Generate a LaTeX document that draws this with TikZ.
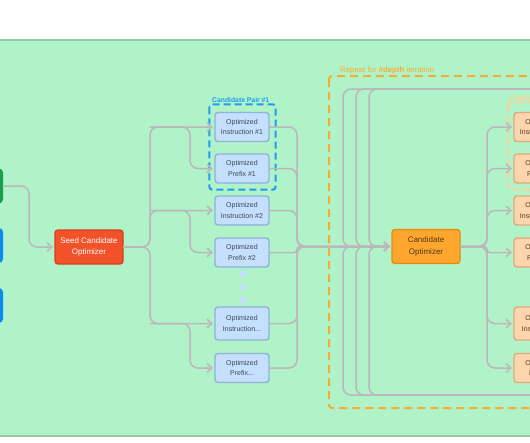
\documentclass[tikz,border=0pt]{standalone}
\usepackage{fontspec}
\setmainfont{Liberation Sans}
\usepackage{xcolor}
\usetikzlibrary{calc,arrows.meta}
\definecolor{panel}{HTML}{B1F3C8}
\definecolor{panelline}{HTML}{98C8A4}
\definecolor{wire}{HTML}{BDB6BC}
\definecolor{seedred}{HTML}{F2522A}
\definecolor{seedline}{HTML}{D4421E}
\definecolor{candorange}{HTML}{FFA62E}
\definecolor{candline}{HTML}{E38D14}
\definecolor{bluefill}{HTML}{C4E0FE}
\definecolor{blueline}{HTML}{8FB3D8}
\definecolor{peachfill}{HTML}{FFD5AE}
\definecolor{peachline}{HTML}{E3A77A}
\definecolor{pairblue}{HTML}{1F9BF0}
\definecolor{pairpeach}{HTML}{FFCF98}
\definecolor{repeatorange}{HTML}{F8AC35}
\definecolor{srcgreen}{HTML}{17A04C}
\definecolor{srcblue}{HTML}{0B8AF0}
\definecolor{ink}{HTML}{3C4656}
\definecolor{brownink}{HTML}{4F3A1E}
\tikzset{
  wire/.style={draw=wire, line width=1.5pt, rounded corners=8pt, line cap=round},
  tip/.style={-{Straight Barb[length=4.5pt,width=8.5pt]}, shorten >=1.5pt},
  optbox/.style={rectangle, rounded corners=3pt, line width=1.4pt, minimum width=54pt,
    minimum height=29pt, align=center, inner sep=1pt, font=\fontsize{7}{10.5}\selectfont},
  bluebox/.style={optbox, fill=bluefill, draw=blueline, text=ink},
  peachbox/.style={optbox, fill=peachfill, draw=peachline, text=brownink},
  mainbox/.style={rectangle, rounded corners=3pt, line width=1.4pt, minimum width=68pt,
    minimum height=34pt, align=center, font=\fontsize{8}{11.3}\selectfont},
  srcbox/.style={rectangle, rounded corners=4pt, minimum width=40pt, minimum height=35pt},
  pairbox/.style={line width=2pt, dash pattern=on 7pt off 4pt, rounded corners=3pt},
  pairlab/.style={anchor=base west, inner sep=0pt, font=\bfseries\fontsize{6.8}{8}\selectfont},
  dot/.style={circle, fill=bluefill, inner sep=0pt, minimum size=7pt},
}

\begin{document}
\begin{tikzpicture}[x=1pt, y=-1pt]
  \clip (0,0) rectangle (530,442);
  \fill[white] (0,0) rectangle (530,442);
  \draw[fill=panel, draw=panelline, line width=1.5pt] (-10,40) rectangle (540,436);

  % repeat frame
  \draw[pairbox, draw=repeatorange, dash pattern=on 8pt off 5pt] (329,76) rectangle (600,408);
  \node[anchor=base west, inner sep=0pt, text=repeatorange, font=\fontsize{7.8}{9}\selectfont]
    (replab) at (340,72) {Repeat for \textbf{\#depth} iteration};

  % inputs, cut at the left edge
  \node[srcbox, fill=srcgreen] (src) at (-17,186) {};
  \node[srcbox, fill=srcblue] (doc1) at (-17,245.5) {};
  \node[srcbox, fill=srcblue] (doc2) at (-17,305.5) {};

  \node[mainbox, fill=seedred, draw=seedline, text=white] (seed) at (89,247) {Seed Candidate\\Optimizer};

  % first candidates
  \node[bluebox] (ins1) at (242,127) {Optimized\\Instruction \#1};
  \node[bluebox] (pre1) at (242,168.5) {Optimized\\Prefix \#1};
  \node[bluebox] (ins2) at (242,210.5) {Optimized\\Instruction \#2};
  \node[bluebox] (pre2) at (242,252.5) {Optimized\\Prefix \#2};
  \node[bluebox, minimum height=33pt] (insn) at (242,323.5) {Optimized\\Instruction...};
  \node[bluebox] (pren) at (242,368) {Optimized\\Prefix...};
  \foreach \y [count=\i] in {274,287,300}
    \node[dot] (dot\i) at (243,\y) {};

  \draw[pairbox, draw=pairblue] ($(ins1.north west)+(-5,-7.5)$) rectangle ($(pre1.south east)+(6,6)$);
  \node[pairlab, text=pairblue] (pairlab) at (212,102.5) {Candidate Pair \#1};

  \node[mainbox, fill=candorange, draw=candline, text=brownink] (cand) at (426,246.5) {Candidate\\Optimizer};

  % next candidates, cut at the right edge
  \node[peachbox] (o1) at (541,127) {Optimized\\Instruction \#1};
  \node[peachbox] (o2) at (541,168.5) {Optimized\\Prefix \#1};
  \node[peachbox] (o3) at (541,210.5) {Optimized\\Instruction \#2};
  \node[peachbox] (o4) at (541,252.5) {Optimized\\Prefix \#2};
  \node[peachbox, minimum height=33pt] (o5) at (541,323.5) {Optimized\\Instruction...};
  \node[peachbox] (o6) at (541,368) {Optimized\\Prefix...};
  \draw[pairbox, draw=pairpeach] ($(o1.north west)+(-5,-10)$) rectangle ($(o2.south east)+(6,6)$);
  \node[pairlab, text=pairpeach] (pairlab2) at (510,100) {Candidate Pair \#1};

  % x positions of the wire trunks
  \coordinate (gx) at (29,0);
  \coordinate (lt) at (150,0);
  \coordinate (ls) at (190,0);
  \coordinate (lm) at (297,0);
  \coordinate (rt) at (487,0);
  \coordinate (lp1) at (343,0);
  \coordinate (lp2) at (356,0);
  \coordinate (lp3) at (369,0);
  \coordinate (topret) at (560,89);
  \coordinate (botret) at (560,395);

  \draw[wire, tip] (src.east) -- (gx |- src.east) -- (gx |- seed.west) -- (seed.west);

  \foreach \a/\b in {ins1/pre1, ins2/pre2, insn/pren} {
    \draw[wire, tip] (seed.east) -- (lt |- seed.east) -- (lt |- \a.west) -- (\a.west);
    \draw[wire, tip] (lt |- \a.west) -- (ls |- \a.west) -- (ls |- \b.west) -- (\b.west);
  }

  \foreach \n/\r in {ins1/8, pre1/8, ins2/8, pre2/3, insn/8, pren/8}
    \draw[wire, tip, rounded corners=\r pt] (\n.east) -- (lm |- \n.east) -- (lm |- cand.west) -- (cand.west);

  % loops back from later rounds
  \foreach \p in {lp1,lp2,lp3} {
    \draw[wire, tip] (topret) -- (\p |- topret) -- (\p |- cand.west) -- (cand.west);
    \draw[wire, tip] (botret) -- (\p |- botret) -- (\p |- cand.west) -- (cand.west);
  }

  \foreach \n/\r in {o1/8, o2/8, o3/8, o4/3, o5/8, o6/8}
    \draw[wire, tip, rounded corners=\r pt] (cand.east) -- (rt |- cand.east) -- (rt |- \n.west) -- (\n.west);
\end{tikzpicture}
\end{document}
